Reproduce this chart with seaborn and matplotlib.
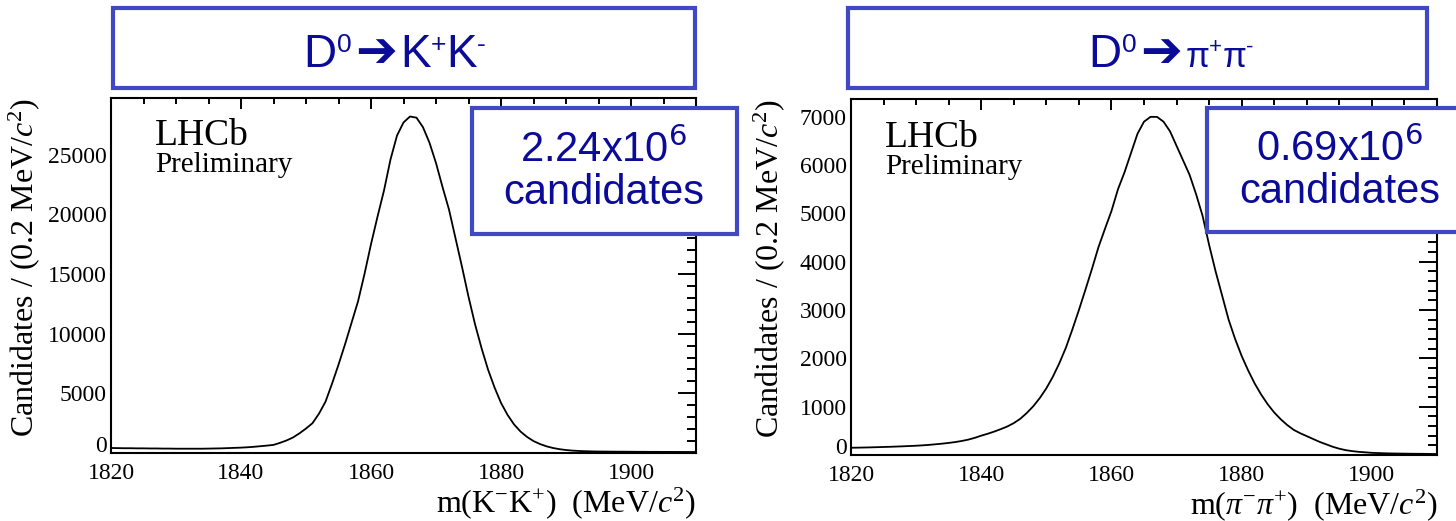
import numpy as np
import pandas as pd
import matplotlib
matplotlib.use("Agg")
import matplotlib.pyplot as plt
import seaborn as sns
from matplotlib.patches import Rectangle
from matplotlib.text import Annotation
from matplotlib.ticker import MultipleLocator, FuncFormatter

# ---------------- data (1 MeV steps) ----------------
mass_mev = list(range(1820, 1911))

kk_counts = [
    420, 410, 400, 400, 390, 390, 380, 380, 370, 370,
    360, 360, 360, 360, 360, 370, 380, 390, 410, 430,
    450, 480, 520, 570, 620, 680, 850, 1050, 1300, 1650,
    2050, 2500, 3300, 4300, 5800, 7400, 9100, 10900, 12700, 15000,
    17500, 19800, 22000, 24600, 26600, 27700, 28200, 28100, 27300, 26000,
    24300, 22300, 20400, 18000, 15600, 13100, 10800, 8800, 7000, 5500,
    4200, 3200, 2400, 1800, 1350, 1000, 750, 560, 420, 320,
    250, 200, 170, 150, 135, 125, 120, 115, 110, 110,
    105, 100, 100, 95, 95, 90, 90, 90, 85, 85, 85,
]

pipi_counts = [
    150, 152, 155, 158, 162, 166, 170, 175, 180, 186,
    192, 200, 210, 222, 235, 250, 268, 290, 318, 355,
    400, 440, 485, 535, 590, 660, 750, 870, 1010, 1180,
    1380, 1620, 1900, 2220, 2600, 3000, 3420, 3850, 4300, 4680,
    5050, 5500, 5850, 6250, 6650, 6900, 7000, 7000, 6900, 6700,
    6400, 6100, 5800, 5400, 4950, 4350, 3800, 3300, 2800, 2400,
    2050, 1750, 1480, 1250, 1050, 880, 740, 620, 520, 450,
    390, 330, 270, 220, 170, 130, 100, 80, 65, 55,
    45, 40, 35, 32, 30, 28, 26, 25, 24, 22, 20,
]

title_pieces = [
    ["D", "0", "\u2794", "K", "+", "K", "-"],
    ["D", "0", "\u2794", "\u03c0", "+", "\u03c0", "-"],
]
yield_labels = ["2.24x10$^{6}$\ncandidates", "0.69x10$^{6}$\ncandidates"]
x_labels = [r"m($\mathrm{K}^{-}\mathrm{K}^{+}$)  (MeV/$c^{2}$)",
            r"m($\pi^{-}\pi^{+}$)  (MeV/$c^{2}$)"]
y_label = r"Candidates / (0.2 MeV/$c^{2}$)"
x_ticks = [1820, 1840, 1860, 1880, 1900]

# ---------------- style ----------------
sns.set_theme(style="white")
plt.rcParams["font.family"] = ["Liberation Serif", "DejaVu Serif"]
plt.rcParams["mathtext.fontset"] = "custom"
plt.rcParams["mathtext.rm"] = "Liberation Serif"
plt.rcParams["mathtext.it"] = "Liberation Serif:italic"
plt.rcParams["mathtext.bf"] = "Liberation Serif:bold"
for k in ["text.color", "axes.labelcolor", "xtick.color", "ytick.color",
          "axes.edgecolor"]:
    plt.rcParams[k] = "black"

W, H = 1456, 521
fig = plt.figure(figsize=(W / 100, H / 100), dpi=100)
fig.patch.set_facecolor("white")

axL = fig.add_axes([111 / W, 1 - 453 / H, 585 / W, 355 / H])
axR = fig.add_axes([851 / W, 1 - 455 / H, 586 / W, 356 / H])

box_edge = "#4148C4"
text_blue = "#0b0b99"
sans = ["Liberation Sans", "DejaVu Sans"]

panels = [
    (axL, kk_counts, 29750, 5000, 1000, x_labels[0], -0.118, (0.075, 0.868, 0.792)),
    (axR, pipi_counts, 7370, 1000, 200, x_labels[1], -0.109, (0.058, 0.865, 0.789)),
]

no_zero = FuncFormatter(lambda v, pos: "" if v == 0 else "%d" % v)

for ax, counts, ymax, ymaj, ymin_, xl, ylx, (tx, ty1, ty2) in panels:
    df = pd.DataFrame({"mass": mass_mev, "counts": counts})
    sns.lineplot(data=df, x="mass", y="counts", ax=ax, color="black", lw=1.3)
    ax.set_xlim(1820, 1910)
    ax.set_ylim(0, ymax)
    ax.set_xticks(x_ticks)
    ax.xaxis.set_minor_locator(MultipleLocator(5))
    ax.yaxis.set_major_locator(MultipleLocator(ymaj))
    ax.yaxis.set_minor_locator(MultipleLocator(ymin_))
    ax.yaxis.set_major_formatter(no_zero)
    ax.tick_params(which="both", direction="in", top=True, right=True,
                   colors="black", width=1.4, labelsize=17)
    ax.tick_params(axis="y", which="major", length=13, pad=3)
    ax.tick_params(axis="y", which="minor", length=6.5)
    ax.tick_params(axis="x", which="major", length=8, pad=7)
    ax.tick_params(axis="x", which="minor", length=4)
    for sp in ax.spines.values():
        sp.set_color("black")
        sp.set_linewidth(1.5)
    # the "0" label of the y axis, lifted slightly above the x tick labels
    ax.annotate("0", xy=(0, 0), xycoords=("axes fraction", "data"),
                xytext=(-3, 5), textcoords="offset points",
                ha="right", va="center", fontsize=17, annotation_clip=False)
    ax.set_ylabel(y_label, fontsize=23, loc="top")
    ax.set_xlabel(xl, fontsize=23, loc="right")
    ax.yaxis.set_label_coords(ylx, 1.0)
    ax.xaxis.set_label_coords(1.0, -0.09)
    ax.text(tx, ty1, "LHCb", transform=ax.transAxes, fontsize=27,
            va="baseline", ha="left")
    ax.text(tx, ty2, "Preliminary", transform=ax.transAxes, fontsize=21,
            va="baseline", ha="left")

# title boxes
for x0, x1 in [(113, 695), (848, 1427)]:
    fig.add_artist(Rectangle((x0 / W, 1 - 88 / H), (x1 - x0) / W, 80 / H,
                             transform=fig.transFigure, facecolor="white",
                             edgecolor=box_edge, lw=3, zorder=5))

# piece styles: (size, family, raise_pt, gap_pt)
piece_style_kk = [(33, sans, 0, 0), (19, sans, 11, 0.5), (36, ["DejaVu Sans"], 0, 3),
                  (33, sans, 0, 2), (19, sans, 11, 0), (33, sans, 0, 0),
                  (19, sans, 11, 0)]
piece_style_pp = [(33, sans, 0, 0), (19, sans, 11, 0.5), (36, ["DejaVu Sans"], 0, 3),
                  (25, sans, 0, 2), (16, sans, 10, 0), (25, sans, 0, 0),
                  (16, sans, 10, 0)]

for (x_start, base), pieces, styles in zip([(303, 67), (1088, 67)], title_pieces,
                                            [piece_style_kk, piece_style_pp]):
    yfig = 1 - base / H
    size0, fam0, _, _ = styles[0]
    prev = fig.text(x_start / W, yfig, pieces[0], fontsize=size0, family=fam0,
                    color=text_blue, ha="left", va="baseline", zorder=6)
    for s, (size, fam, rz, gap) in zip(pieces[1:], styles[1:]):
        ann = Annotation(s, xy=(1, yfig), xycoords=(prev, "figure fraction"),
                         xytext=(gap, rz), textcoords="offset points",
                         ha="left", va="baseline", fontsize=size, family=fam,
                         color=text_blue, annotation_clip=False, zorder=6)
        fig.add_artist(ann)
        prev = ann

# yield boxes
for (x0, x1, y0, y1, tcx), lab in zip([(472, 737, 108, 234, 604),
                                        (1207, 1475, 108, 232, 1340)],
                                       yield_labels):
    fig.add_artist(Rectangle((x0 / W, 1 - y1 / H), (x1 - x0) / W, (y1 - y0) / H,
                             transform=fig.transFigure, facecolor="white",
                             edgecolor=box_edge, lw=3, zorder=5))
    t = fig.text(tcx / W, 1 - ((y0 + y1) / 2) / H, lab, ha="center", va="center",
                 fontsize=30, color=text_blue, family=sans, linespacing=1.05,
                 zorder=6)
    t.set_math_fontfamily("dejavusans")

fig.savefig("out.png", dpi=100, facecolor="white")
